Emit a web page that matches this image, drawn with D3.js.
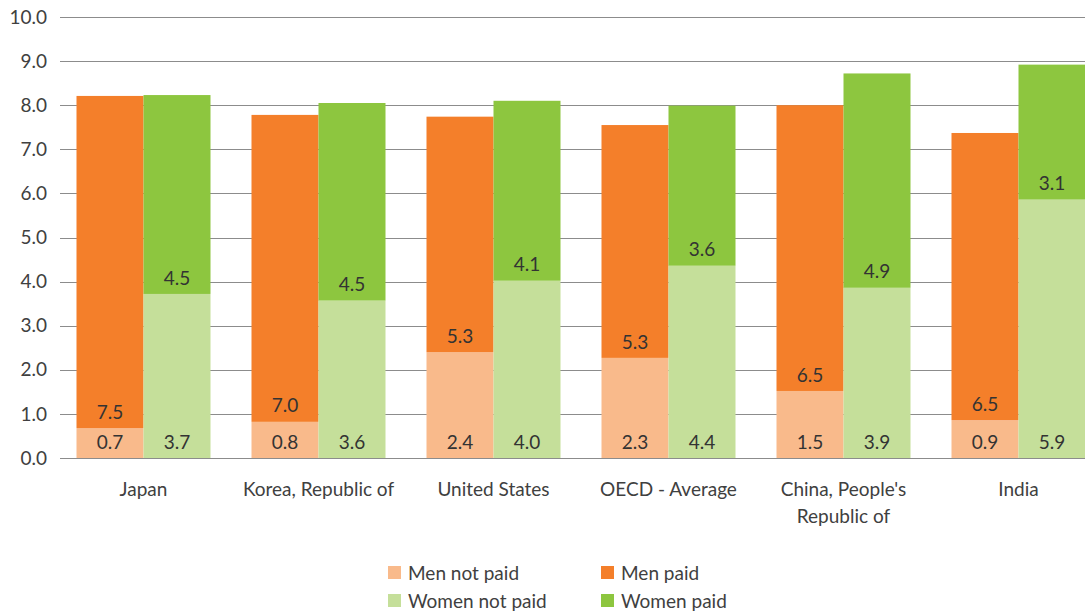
<!DOCTYPE html>
<html>
<head>
<meta charset="utf-8">
<script src="https://cdn.jsdelivr.net/npm/d3@7"></script>
<style>
  body { margin: 0; background: #fff; }
  svg { display: block; font-family: Lato, "Open Sans", sans-serif; }
</style>
</head>
<body>
<svg width="1085" height="614"></svg>
<script>
// categories (line breaks as in the original axis)
const categories = ["Japan", "Korea, Republic of", "United States", "OECD - Average", "China, People's\nRepublic of", "India"];
const yTicks = [0, 1, 2, 3, 4, 5, 6, 7, 8, 9, 10];

// hours per day
const menNotPaid   = [0.68, 0.82, 2.40, 2.27, 1.52, 0.86];
const menPaid      = [7.53, 6.96, 5.34, 5.28, 6.48, 6.51];
const womenNotPaid = [3.72, 3.57, 4.02, 4.36, 3.86, 5.86];
const womenPaid    = [4.51, 4.48, 4.08, 3.63, 4.86, 3.06];

const seriesNames = ["Men not paid", "Men paid", "Women not paid", "Women paid"];
const colors = ["#f9ba8b", "#f47f2a", "#c5df9a", "#8dc63f"];

const svg = d3.select("svg");
const margin = {top: 17, bottom: 156, left: 56};
const height = 614;
const fs = 19;

const x = d3.scaleBand()
  .domain(categories)
  .range([margin.left, margin.left + 175 * 6]);

// two bars side by side, centred in each band
const sex = d3.scaleBand()
  .domain(["men", "women"])
  .range([20.5, x.bandwidth() - 20.5]);

const y = d3.scaleLinear()
  .domain([0, 10])
  .range([height - margin.bottom, margin.top]);

// gridlines + y labels
svg.append("g")
  .selectAll("line")
  .data(yTicks)
  .join("line")
    .attr("x1", 60)
    .attr("x2", 1110)
    .attr("y1", d => Math.round(y(d)) + 0.5)
    .attr("y2", d => Math.round(y(d)) + 0.5)
    .attr("stroke", "#8c8c8c")
    .attr("stroke-width", 1);

svg.append("g")
  .selectAll("text")
  .data(yTicks)
  .join("text")
    .attr("x", 47)
    .attr("y", d => y(d))
    .attr("dy", "0.35em")
    .attr("text-anchor", "end")
    .attr("font-size", fs)
    .attr("fill", "#404040")
    .text(d => d3.format(".1f")(d));

// build segment rows
const segs = [];
categories.forEach((c, i) => {
  segs.push({cat: c, grp: "men", y0: 0, y1: menNotPaid[i], v: menNotPaid[i], s: 0});
  segs.push({cat: c, grp: "men", y0: menNotPaid[i], y1: menNotPaid[i] + menPaid[i], v: menPaid[i], s: 1});
  segs.push({cat: c, grp: "women", y0: 0, y1: womenNotPaid[i], v: womenNotPaid[i], s: 2});
  segs.push({cat: c, grp: "women", y0: womenNotPaid[i], y1: womenNotPaid[i] + womenPaid[i], v: womenPaid[i], s: 3});
});

svg.append("g")
  .selectAll("rect")
  .data(segs)
  .join("rect")
    .attr("x", d => x(d.cat) + sex(d.grp))
    .attr("y", d => y(d.y1))
    .attr("width", sex.bandwidth())
    .attr("height", d => y(d.y0) - y(d.y1))
    .attr("fill", d => colors[d.s]);

// value labels near segment base
svg.append("g")
  .selectAll("text")
  .data(segs)
  .join("text")
    .attr("x", d => x(d.cat) + sex(d.grp) + sex.bandwidth() / 2)
    .attr("y", d => y(d.y0) - 16)
    .attr("dy", "0.35em")
    .attr("text-anchor", "middle")
    .attr("font-size", fs)
    .attr("fill", "#333")
    .text(d => d.v.toFixed(1));

// category labels
const catLabels = svg.append("g")
  .selectAll("text")
  .data(categories)
  .join("text")
    .attr("x", d => x(d) + x.bandwidth() / 2)
    .attr("y", 496)
    .attr("text-anchor", "middle")
    .attr("font-size", fs)
    .attr("fill", "#404040");

catLabels.selectAll("tspan")
  .data(d => d.split("\n"))
  .join("tspan")
    .attr("x", function() { return d3.select(this.parentNode).attr("x"); })
    .attr("dy", (d, i) => i === 0 ? 0 : 27)
    .text(d => d);

// legend
const legendPos = [[388, 573], [601, 573], [388, 601], [601, 601]];
const legend = svg.append("g")
  .selectAll("g")
  .data(seriesNames)
  .join("g")
    .attr("transform", (d, i) => `translate(${legendPos[i][0]},${legendPos[i][1]})`);

legend.append("rect")
  .attr("x", 0)
  .attr("y", -7)
  .attr("width", 13)
  .attr("height", 13)
  .attr("fill", (d, i) => colors[i]);

legend.append("text")
  .attr("x", 20)
  .attr("y", 0)
  .attr("dy", "0.35em")
  .attr("font-size", fs)
  .attr("fill", "#404040")
  .text(d => d);
</script>
</body>
</html>
